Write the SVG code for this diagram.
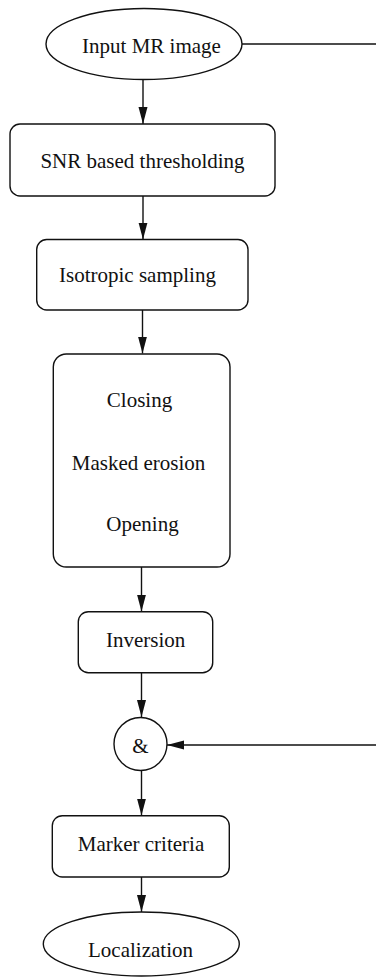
<svg xmlns="http://www.w3.org/2000/svg" width="376" height="977" viewBox="0 0 376 977">
<style>
.shape{fill:#fff;stroke:#111;stroke-width:1.4}
.lbl{font-family:"Liberation Serif","Times New Roman",serif;font-size:21px;fill:#111;text-anchor:middle}
.conn{fill:none;stroke:#111;stroke-width:1.4}
</style>
<defs>
<marker id="ah" markerUnits="userSpaceOnUse" markerWidth="18" markerHeight="10" refX="17" refY="4.5" orient="auto">
<path d="M0,0 L17,4.5 L0,9 z" fill="#111"/>
</marker>
</defs>
<rect width="376" height="977" fill="#fff"/>
<g id="connectors">
<path class="conn" d="M242,44 H376"/>
<path class="conn" d="M143,80 V124" marker-end="url(#ah)"/>
<path class="conn" d="M143,196 V239.5" marker-end="url(#ah)"/>
<path class="conn" d="M142.5,310 V353.5" marker-end="url(#ah)"/>
<path class="conn" d="M141.5,567 V611.5" marker-end="url(#ah)"/>
<path class="conn" d="M141.5,673 V717" marker-end="url(#ah)"/>
<path class="conn" d="M376,745 H167" marker-end="url(#ah)"/>
<path class="conn" d="M141.5,771 V815.5" marker-end="url(#ah)"/>
<path class="conn" d="M141.5,877 V912" marker-end="url(#ah)"/>
</g>
<g id="input">
<ellipse class="shape" cx="144" cy="44" rx="98" ry="35.5"/>
<text class="lbl" x="151.5" y="52.5">Input MR image</text>
</g>
<g id="snr">
<rect class="shape" x="10" y="124" width="265" height="72" rx="10"/>
<text class="lbl" x="142.5" y="168">SNR based thresholding</text>
</g>
<g id="iso">
<rect class="shape" x="36.7" y="239.5" width="211.3" height="70.5" rx="10"/>
<text class="lbl" x="137.5" y="282">Isotropic sampling</text>
</g>
<g id="morph">
<rect class="shape" x="53.3" y="354" width="176.7" height="213" rx="13"/>
<text class="lbl" x="139.5" y="407">Closing</text>
<text class="lbl" x="138.5" y="470">Masked erosion</text>
<text class="lbl" x="142.5" y="531">Opening</text>
</g>
<g id="inversion">
<rect class="shape" x="78.3" y="611.7" width="134.4" height="61" rx="10"/>
<text class="lbl" x="145.7" y="646.7">Inversion</text>
</g>
<g id="and">
<circle class="shape" cx="140.5" cy="744" r="26.5"/>
<text class="lbl" x="140.5" y="752.5">&amp;</text>
</g>
<g id="marker">
<rect class="shape" x="52.3" y="815.7" width="177" height="61.3" rx="10"/>
<text class="lbl" x="141" y="850.7">Marker criteria</text>
</g>
<g id="localization">
<ellipse class="shape" cx="141.3" cy="944" rx="98" ry="32"/>
<text class="lbl" x="140.5" y="956.5">Localization</text>
</g>
</svg>
